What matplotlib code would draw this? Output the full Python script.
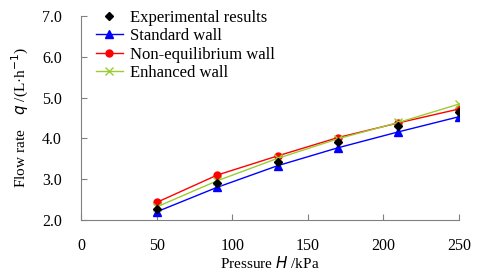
import numpy as np
import matplotlib
matplotlib.use('Agg')
import matplotlib.pyplot as plt

# Data
pressure = [50, 90, 130, 170, 210, 250]
experimental = [2.27, 2.90, 3.42, 3.91, 4.30, 4.65]
standard_wall = [2.20, 2.80, 3.33, 3.77, 4.16, 4.53]
non_eq_wall = [2.43, 3.10, 3.57, 4.02, 4.38, 4.72]
enhanced_wall = [2.32, 2.96, 3.51, 3.99, 4.39, 4.84]
exp_err = [0.05, 0.05, 0.05, 0.05, 0.05, 0.05]

plt.rcParams['font.family'] = ['Liberation Serif', 'DejaVu Serif']
plt.rcParams['font.size'] = 11

fig = plt.figure(figsize=(4.8, 2.76), dpi=100)
ax = fig.add_axes([0.169, 0.203, 0.787, 0.739])

ax.plot(pressure, standard_wall, color='blue', marker='^', markersize=5.5,
        linewidth=1, label='Standard wall', zorder=3)
ax.plot(pressure, non_eq_wall, color='red', marker='o', markersize=5,
        linewidth=1, label='Non-equilibrium wall', zorder=3)
ax.plot(pressure, enhanced_wall, color='yellowgreen', marker='x', markersize=5.5,
        linewidth=1, label='Enhanced wall', zorder=3)
ax.errorbar(pressure, experimental, yerr=exp_err, fmt='none', ecolor='black',
            elinewidth=1.5, capsize=0, zorder=4)
ax.plot(pressure, experimental, linestyle='none', marker='D', color='black',
        markersize=4, label='Experimental results', zorder=4)

ax.set_xlim(0, 250)
ax.set_ylim(2.0, 7.0)
ax.set_xticks([0, 50, 100, 150, 200, 250])
ax.set_yticks([2.0, 3.0, 4.0, 5.0, 6.0, 7.0])
ax.set_yticklabels(['2.0', '3.0', '4.0', '5.0', '6.0', '7.0'])

for s in ['top', 'right']:
    ax.spines[s].set_visible(False)
for s in ['left', 'bottom']:
    ax.spines[s].set_color('#808080')
ax.tick_params(direction='in', color='#808080', length=4, pad=13)
ax.tick_params(axis='y', pad=14, labelsize=11.5)
ax.tick_params(axis='x', labelsize=11.5)

ax.set_xlabel('Pressure $\\it{H}$ /kPa', labelpad=1)
ax.set_ylabel('Flow rate    $\\it{q}$ /(L·h$^{-1}$)', labelpad=8)

handles, labels = ax.get_legend_handles_labels()
order = [3, 0, 1, 2]
ax.legend([handles[i] for i in order], [labels[i] for i in order],
          loc='upper left', bbox_to_anchor=(0.0, 1.105), frameon=False,
          handlelength=1.6, labelspacing=0.15, handletextpad=0.45,
          prop={'size': 12})

fig.savefig('out.png', dpi=100)
